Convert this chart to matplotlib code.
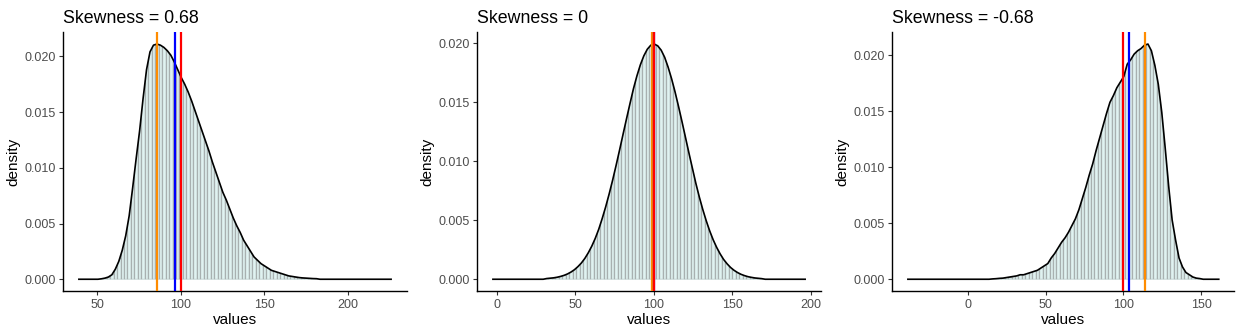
import numpy as np
import matplotlib
matplotlib.use("Agg")
import matplotlib.pyplot as plt
from matplotlib.patches import Polygon

plt.rcParams['font.family'] = ['Liberation Sans', 'DejaVu Sans']

titles = ["Skewness = 0.68", "Skewness = 0", "Skewness = -0.68"]

# data range (min, max) of each sample; 90 equal-width bins over it
ranges = [(39.0, 226.0), (-2.6, 196.4), (-38.4, 161.3)]

# density per bin
dens_pos = [0, 0, 0, 0, 0, 0,
            0.00004, 0.0001, 0.0002, 0.0004, 0.0009, 0.0016, 0.0026, 0.0039, 0.0057, 0.0082,
            0.0108, 0.0133, 0.0162, 0.0188, 0.0204, 0.0210, 0.0211, 0.0210, 0.0208, 0.0205,
            0.0201, 0.0195, 0.0188, 0.0181, 0.0175, 0.0168, 0.0160, 0.0151, 0.0142, 0.0133,
            0.0124, 0.0115, 0.0105, 0.0096, 0.0087, 0.0078, 0.0071, 0.0063, 0.0055, 0.0048,
            0.0042, 0.0035, 0.0030, 0.0025, 0.0020, 0.0017, 0.0014, 0.0012, 0.0010, 0.0008,
            0.0007, 0.0006, 0.0005, 0.0004, 0.0003, 0.00025, 0.0002, 0.00015, 0.00012, 0.0001,
            0.00008, 0.00006, 0.00005,
            0, 0, 0, 0, 0, 0, 0, 0, 0, 0, 0, 0, 0, 0, 0, 0, 0, 0, 0, 0, 0]

dens_zero = [0, 0, 0, 0, 0, 0, 0, 0, 0, 0, 0, 0, 0, 0, 0,
             0.00006, 0.00009, 0.00012, 0.00017, 0.00024, 0.00033, 0.00045, 0.00061, 0.00081, 0.00107,
             0.00138, 0.00177, 0.00225, 0.00281, 0.00347, 0.00424, 0.00515, 0.00614, 0.00723, 0.0084,
             0.00965, 0.01095, 0.01228, 0.0136, 0.01489, 0.01615, 0.01724, 0.01819, 0.01895, 0.01951,
             0.01985, 0.01995, 0.0198, 0.01943, 0.01883, 0.01799, 0.01701, 0.01589, 0.01466, 0.01337,
             0.01204, 0.01071, 0.00942, 0.00813, 0.00697, 0.00591, 0.00495, 0.00409, 0.00334, 0.0027,
             0.00215, 0.00168, 0.00131, 0.0010, 0.00076, 0.00057, 0.00042, 0.00031, 0.00022, 0.00016,
             0.00011, 0.00008, 0.00005,
             0, 0, 0, 0, 0, 0, 0, 0, 0, 0, 0, 0]

dens_neg = [0, 0, 0, 0, 0, 0, 0, 0, 0, 0, 0, 0, 0, 0, 0, 0, 0, 0, 0, 0, 0, 0, 0, 0,
            0.00003, 0.00005, 0.00008, 0.0001, 0.00015, 0.0002, 0.00025, 0.0003, 0.0004, 0.0004,
            0.0005, 0.0006, 0.0007, 0.0008, 0.0010, 0.0012, 0.0014, 0.0019, 0.0023, 0.0028,
            0.0033, 0.0037, 0.0042, 0.0048, 0.0054, 0.0062, 0.0072, 0.0082, 0.0093, 0.0103,
            0.0115, 0.0126, 0.0137, 0.0148, 0.0158, 0.0164, 0.0171, 0.0176, 0.0181, 0.0192,
            0.0196, 0.0201, 0.0204, 0.0206, 0.0209, 0.0210, 0.0204, 0.0191, 0.0174, 0.0149,
            0.0117, 0.0083, 0.0053, 0.0035, 0.0019, 0.0011, 0.0006, 0.0004, 0.0002, 0.0001,
            0.00006,
            0, 0, 0, 0, 0]

densities = [dens_pos, dens_zero, dens_neg]

modes = [85.8, 98.8, 113.7]
medians = [96.6, 100.1, 103.5]
means = [99.9, 100.1, 100.1]

xticks = [[50, 100, 150, 200], [0, 50, 100, 150, 200], [0, 50, 100, 150]]
yticks = [0.000, 0.005, 0.010, 0.015, 0.020]

fig = plt.figure(figsize=(12.43, 3.36), dpi=100)
lefts = [0.0509, 0.384, 0.7179]
rights = [0.3272, 0.6603, 0.993]
bottom, top = 0.1339, 0.9039

for k in range(3):
    ax = fig.add_axes([lefts[k], bottom, rights[k] - lefts[k], top - bottom])
    lo, hi = ranges[k]
    d = np.array(densities[k])
    edges = np.linspace(lo, hi, len(d) + 1)
    centers = 0.5 * (edges[:-1] + edges[1:])
    w = edges[1] - edges[0]
    ox = np.concatenate([[lo], centers, [hi]])
    oy = np.concatenate([[0.0], d, [0.0]])

    # area under the outline, used to clip the bars
    clip = Polygon(np.column_stack([ox, oy]), closed=True, transform=ax.transData,
                   facecolor='none', edgecolor='none')
    ax.add_patch(clip)
    ax.fill_between(ox, 0, oy, color='#E0F2F1', linewidth=0, zorder=1)
    bars = ax.bar(edges[:-1], np.maximum(d, 0) * 1.2, width=w, align='edge',
                  color='#E0F2F1', edgecolor='#A8B0B0', linewidth=0.9, zorder=1.5)
    for b in bars:
        b.set_clip_path(clip)
    ax.plot(ox, oy, color='black', linewidth=1.2, zorder=2)
    ax.axvline(modes[k], color='#FF8C00', linewidth=1.6, zorder=3)
    ax.axvline(medians[k], color='#0000FF', linewidth=1.6, zorder=3)
    ax.axvline(means[k], color='#FF0000', linewidth=1.6, zorder=4)

    span = hi - lo
    ax.set_xlim(lo - 0.05 * span, hi + 0.05 * span)
    m = d.max()
    ax.set_ylim(-0.05 * m, 1.05 * m)
    ax.set_xticks(xticks[k])
    ax.set_yticks(yticks)
    ax.set_yticklabels([f"{v:.3f}" for v in yticks])
    for s in ['top', 'right']:
        ax.spines[s].set_visible(False)
    for s in ['left', 'bottom']:
        ax.spines[s].set_linewidth(1.0)
        ax.spines[s].set_color('black')
    ax.tick_params(axis='both', length=3, width=0.8, color='#333333',
                   labelcolor='#4D4D4D', labelsize=9, pad=2.5)
    ax.set_xlabel("values", fontsize=11, labelpad=1.5)
    ax.set_ylabel("density", fontsize=11, labelpad=3)
    ax.set_title(titles[k], loc='left', fontsize=12.8, pad=7)

fig.savefig("out.png", dpi=100)
